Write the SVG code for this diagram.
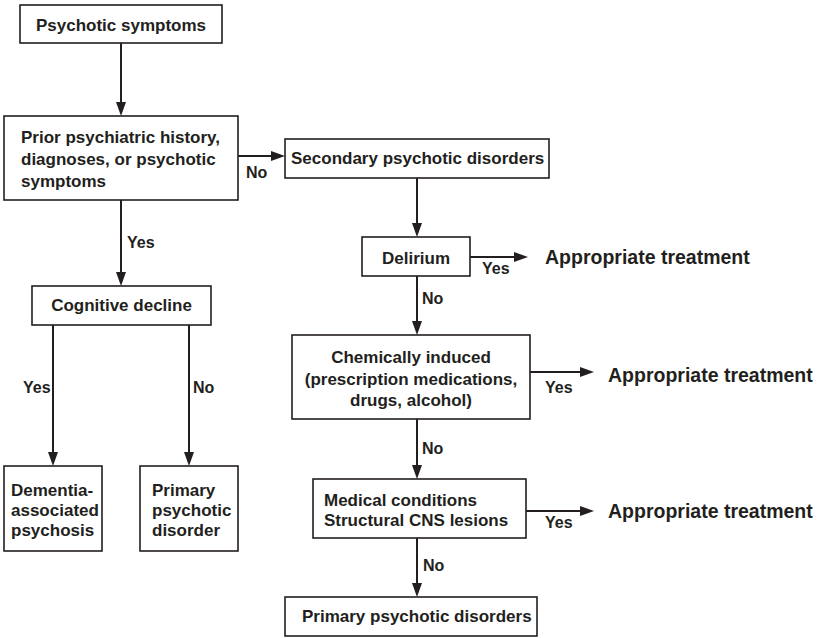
<svg xmlns="http://www.w3.org/2000/svg" width="822" height="638" viewBox="0 0 822 638">
<defs>
<style>
.box{fill:#fff;stroke:#231f20;stroke-width:1.6}
.t{font-family:"Liberation Sans",Arial,sans-serif;font-weight:bold;font-size:17px;fill:#231f20}
.c{text-anchor:middle}
.lbl{font-family:"Liberation Sans",Arial,sans-serif;font-weight:bold;font-size:16px;fill:#231f20}
.big{font-family:"Liberation Sans",Arial,sans-serif;font-weight:bold;font-size:19.5px;fill:#231f20}
.ln{stroke:#231f20;stroke-width:2;fill:none;marker-end:url(#ah)}
</style>
<marker id="ah" markerUnits="userSpaceOnUse" markerWidth="14" markerHeight="10" refX="4" refY="5" orient="auto">
<path d="M0,0 L14,5 L0,10 z" fill="#231f20"/>
</marker>
</defs>
<rect width="822" height="638" fill="#fff"/>
<g id="connectors">
<line class="ln" x1="121" y1="43" x2="121" y2="106"/>
<line class="ln" x1="238" y1="156" x2="275" y2="156"/>
<line class="ln" x1="121" y1="200" x2="121" y2="276"/>
<line class="ln" x1="53" y1="325" x2="53" y2="456"/>
<line class="ln" x1="189" y1="325" x2="189" y2="456"/>
<line class="ln" x1="417" y1="178" x2="417" y2="227"/>
<line class="ln" x1="470" y1="257" x2="518" y2="257"/>
<line class="ln" x1="417" y1="276" x2="417" y2="325"/>
<line class="ln" x1="530" y1="372" x2="584" y2="372"/>
<line class="ln" x1="417" y1="419" x2="417" y2="469"/>
<line class="ln" x1="526" y1="511" x2="584" y2="511"/>
<line class="ln" x1="417" y1="538" x2="417" y2="587"/>
<text class="lbl" x="246" y="178">No</text>
<text class="lbl" x="23" y="393">Yes</text>
<text class="lbl" x="193" y="393">No</text>
<text class="lbl" x="127" y="248">Yes</text>
<text class="lbl" x="482" y="274">Yes</text>
<text class="lbl" x="422" y="304">No</text>
<text class="lbl" x="545" y="393">Yes</text>
<text class="lbl" x="422" y="454">No</text>
<text class="lbl" x="545" y="528">Yes</text>
<text class="lbl" x="423" y="571">No</text>
</g>
<g id="n-psychotic">
<rect class="box" x="20" y="5" width="202" height="38"/>
<text class="t c" x="121" y="31">Psychotic symptoms</text>
</g>
<g id="n-prior">
<rect class="box" x="4" y="116" width="234" height="84"/>
<text class="t" x="21" y="143">Prior psychiatric history,</text>
<text class="t" x="21" y="165">diagnoses, or psychotic</text>
<text class="t" x="21" y="187">symptoms</text>
</g>
<g id="n-secondary">
<rect class="box" x="285" y="139" width="264" height="39"/>
<text class="t" x="291" y="164">Secondary psychotic disorders</text>
</g>
<g id="n-cognitive">
<rect class="box" x="32" y="286" width="179" height="39"/>
<text class="t c" x="121.5" y="311">Cognitive decline</text>
</g>
<g id="n-dementia">
<rect class="box" x="4" y="466" width="98" height="85"/>
<text class="t" x="11" y="496">Dementia-</text>
<text class="t" x="11" y="516">associated</text>
<text class="t" x="11" y="536">psychosis</text>
</g>
<g id="n-primary">
<rect class="box" x="140" y="466" width="98" height="85"/>
<text class="t" x="152" y="496">Primary</text>
<text class="t" x="152" y="516">psychotic</text>
<text class="t" x="152" y="536">disorder</text>
</g>
<g id="n-delirium">
<rect class="box" x="362" y="237" width="108" height="39"/>
<text class="t c" x="416" y="264">Delirium</text>
</g>
<g id="n-treat1">
<text class="big" x="545" y="264">Appropriate treatment</text>
</g>
<g id="n-chemical">
<rect class="box" x="292" y="335" width="238" height="84"/>
<text class="t c" x="411" y="363">Chemically induced</text>
<text class="t c" x="411" y="385">(prescription medications,</text>
<text class="t c" x="411" y="406">drugs, alcohol)</text>
</g>
<g id="n-treat2">
<text class="big" x="608" y="382">Appropriate treatment</text>
</g>
<g id="n-medical">
<rect class="box" x="313" y="479" width="213" height="59"/>
<text class="t" x="324" y="506">Medical conditions</text>
<text class="t" x="324" y="526">Structural CNS lesions</text>
</g>
<g id="n-treat3">
<text class="big" x="608" y="518">Appropriate treatment</text>
</g>
<g id="n-primary-disorders">
<rect class="box" x="285" y="597" width="252" height="39"/>
<text class="t" x="302" y="622">Primary psychotic disorders</text>
</g>
</svg>
